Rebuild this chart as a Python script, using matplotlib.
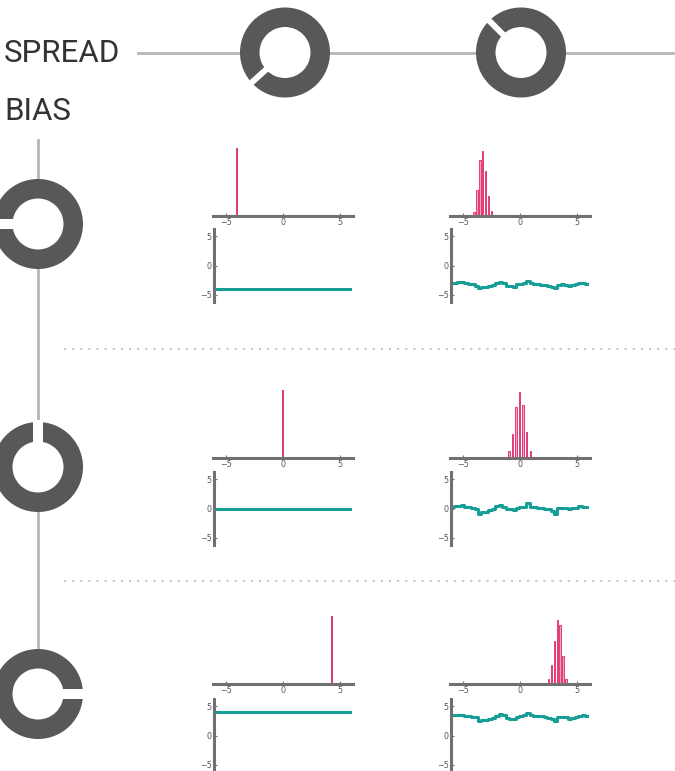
import matplotlib
matplotlib.use('Agg')
import matplotlib.pyplot as plt
from matplotlib.patches import Wedge, Circle
import numpy as np

W, H = 675, 771

# histogram bars (bin centre, relative height)
hist_x_low = [-4.0, -3.75, -3.5, -3.25, -3.0, -2.75, -2.5]
hist_h_low = [0.06, 0.38, 0.82, 0.96, 0.66, 0.30, 0.08]
hist_x_mid = [-0.95, -0.65, -0.33, -0.05, 0.27, 0.58, 0.9]
hist_h_mid = [0.11, 0.36, 0.75, 0.97, 0.78, 0.38, 0.11]
hist_x_high = [2.5, 2.75, 3.0, 3.25, 3.5, 3.75, 4.0]
hist_h_high = [0.07, 0.28, 0.64, 0.94, 0.87, 0.41, 0.08]

# single spikes for the zero-spread column
spike_x = [-4.0, 0.0, 4.25]
spike_h = [1.0, 1.0, 1.0]

# traces over time
flat_low = [-4.0] * 40
flat_mid = [0.0] * 40
flat_high = [4.0] * 40
trace_low = [-3.0, -2.95, -2.85, -2.8, -3.05, -3.15, -3.2, -3.4, -3.8, -3.7,
             -3.6, -3.45, -3.3, -2.95, -2.8, -3.05, -3.4, -3.4, -3.6, -3.2,
             -3.1, -2.95, -2.55, -3.05, -3.15, -3.2, -3.25, -3.3, -3.4, -3.6,
             -3.9, -3.3, -3.2, -3.25, -3.45, -3.25, -3.2, -3.0, -3.05, -3.1]
trace_mid = [0.3, 0.4, 0.45, 0.55, 0.3, 0.2, 0.15, -0.1, -0.85, -0.6,
             -0.55, -0.3, 0.0, 0.35, 0.6, 0.3, -0.1, -0.15, -0.3, 0.15,
             0.2, 0.3, 0.85, 0.3, 0.2, 0.15, 0.1, 0.0, -0.1, -0.5,
             -0.85, 0.05, 0.15, 0.1, -0.1, 0.05, 0.1, 0.35, 0.3, 0.25]
trace_high = [3.4, 3.45, 3.5, 3.55, 3.35, 3.3, 3.2, 3.1, 2.45, 2.65,
              2.7, 2.85, 3.05, 3.3, 3.6, 3.4, 3.0, 2.85, 2.8, 3.15,
              3.3, 3.4, 3.85, 3.4, 3.35, 3.3, 3.25, 3.1, 3.0, 2.8,
              2.4, 3.1, 3.2, 3.2, 2.85, 3.0, 3.1, 3.35, 3.4, 3.3]

# knob angles (degrees, screen convention: 0 = right, 90 = up)
spread_knobs = [222, 135]
bias_knobs = [180, 90, 0]

PINK = '#e23b78'
PINK_LIGHT = '#f3a3c0'
TEAL = '#179e97'
DARK = '#585858'
AXIS = '#707070'
LIGHT = '#b6b6b6'

fig = plt.figure(figsize=(W / 100, H / 100), dpi=100)


def box(l, t, w, h):
    return [l / W, 1 - (t + h) / H, w / W, h / H]


# background layer in pixel coordinates
bg = fig.add_axes([0, 0, 1, 1])
bg.set_xlim(0, W)
bg.set_ylim(H, 0)
bg.axis('off')

bg.plot([138, W], [52.5, 52.5], color=LIGHT, lw=2, zorder=1)
bg.plot([38, 38], [140, 655], color=LIGHT, lw=2, zorder=1)
for yy in [348.5, 580.5]:
    bg.plot([64, W], [yy, yy], color='#c8c8c8', lw=1.5,
            linestyle=(0, (1.0, 2.9)), zorder=1)

bg.text(4, 53, 'SPREAD', fontsize=22.5, family=['Roboto', 'DejaVu Sans'],
        color='#333333', va='center', ha='left')
bg.text(4, 111.5, 'BIAS', fontsize=22.5, family=['Roboto', 'DejaVu Sans'],
        color='#333333', va='center', ha='left')

R_OUT, R_IN = 45, 25.5


def knob(cx, cy, ang, notch_w):
    bg.add_patch(Circle((cx, cy), R_IN, color='white', zorder=2))
    bg.add_patch(Wedge((cx, cy), R_OUT, 0, 360, width=R_OUT - R_IN,
                       color=DARK, zorder=3, lw=0))
    a = np.deg2rad(ang)
    dx, dy = np.cos(a), -np.sin(a)
    bg.plot([cx + dx * (R_IN - 2), cx + dx * (R_OUT + 2)],
            [cy + dy * (R_IN - 2), cy + dy * (R_OUT + 2)],
            color='white', lw=notch_w * 0.72, solid_capstyle='butt', zorder=4)


knob(285, 52.5, spread_knobs[0], 6)
knob(521, 52.5, spread_knobs[1], 6)
for cy, ang in zip([224, 467, 694], bias_knobs):
    knob(38, cy, ang, 10)


def style_ticks(ax):
    ax.tick_params(direction='in', length=2.5, width=0.8, color=AXIS,
                   labelsize=5.8, labelcolor='#555555', pad=1.5)


def hist_axes(left, base):
    ax = fig.add_axes(box(left, base - 76, 140, 76))
    ax.patch.set_alpha(0)
    for s in ['top', 'right', 'left']:
        ax.spines[s].set_visible(False)
    ax.spines['bottom'].set_color(AXIS)
    ax.spines['bottom'].set_linewidth(2.2)
    ax.set_xlim(-6.1, 6.1)
    ax.set_ylim(0, 1.12)
    ax.set_xticks([-5, 0, 5])
    ax.set_yticks([])
    style_ticks(ax)
    return ax


def line_axes(left, zero):
    ax = fig.add_axes(box(left, zero - 36.5, 139, 73))
    ax.patch.set_alpha(0)
    for s in ['top', 'right', 'bottom']:
        ax.spines[s].set_visible(False)
    ax.spines['left'].set_color(AXIS)
    ax.spines['left'].set_linewidth(2.2)
    ax.set_ylim(-6.2, 6.2)
    ax.set_xlim(-0.3, 39.9)
    ax.set_yticks([-5, 0, 5])
    ax.set_xticks([])
    style_ticks(ax)
    return ax


bases = [216, 458, 684]
zeros = [265.5, 508.5, 735.5]
flats = [flat_low, flat_mid, flat_high]
traces = [trace_low, trace_mid, trace_high]
hists = [(hist_x_low, hist_h_low), (hist_x_mid, hist_h_mid),
         (hist_x_high, hist_h_high)]

for i in range(3):
    # zero spread column
    ax = hist_axes(213, bases[i])
    ax.bar([spike_x[i]], [spike_h[i]], width=0.2, color=PINK, lw=0)
    ax = line_axes(214, zeros[i])
    ax.plot(range(40), flats[i], color=TEAL, lw=2.2)

    # spread column
    ax = hist_axes(450, bases[i])
    hx, hh = hists[i]
    ax.bar(hx, hh, width=0.13, facecolor=PINK_LIGHT, edgecolor=PINK, lw=0.7)
    ax = line_axes(451, zeros[i])
    ax.plot(range(40), traces[i], color=TEAL, lw=2.2, drawstyle='steps-mid')

fig.savefig('out.png', dpi=100)
